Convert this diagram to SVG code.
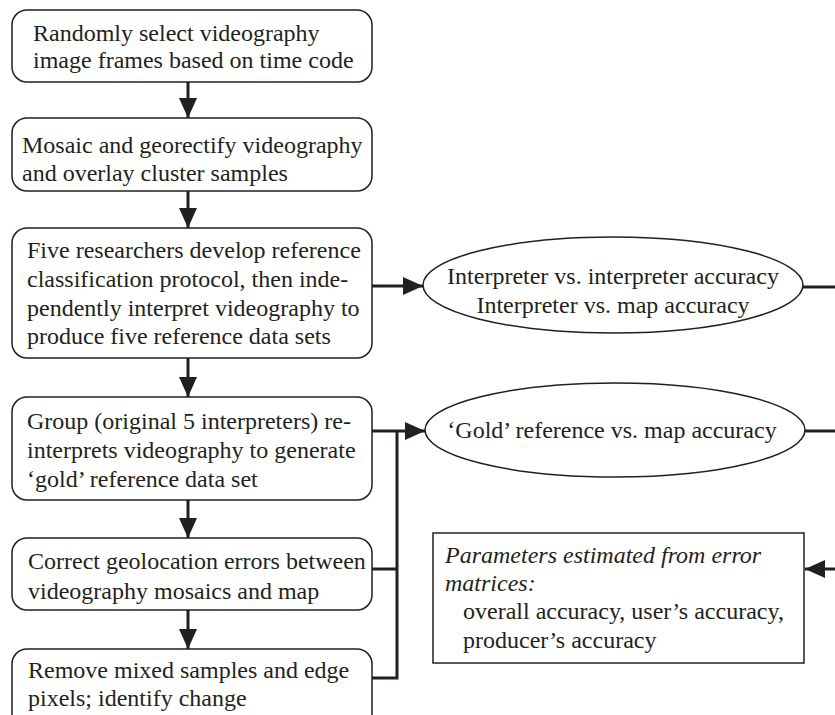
<svg xmlns="http://www.w3.org/2000/svg" width="835" height="715" viewBox="0 0 835 715">
<style>
.box{fill:#fff;stroke:#231f20;stroke-width:1.5}
.t{font-family:"Liberation Serif","Times New Roman",serif;font-size:24px;fill:#231f20}
.i{font-style:italic}
.c{fill:none;stroke:#231f20;stroke-width:3}
.m{text-anchor:middle}
</style>
<defs>
<marker id="ah" markerUnits="userSpaceOnUse" markerWidth="20" markerHeight="20" viewBox="0 0 20 20" refX="20" refY="10" orient="auto">
<path d="M0,1 L20,10 L0,19 Z" fill="#231f20"/>
</marker>
</defs>
<rect width="835" height="715" fill="#fff"/>
<g id="connectors">
<line class="c" x1="188" y1="82" x2="188" y2="118" marker-end="url(#ah)"/>
<line class="c" x1="188" y1="191" x2="188" y2="228" marker-end="url(#ah)"/>
<line class="c" x1="188" y1="358" x2="188" y2="397" marker-end="url(#ah)"/>
<line class="c" x1="188" y1="500" x2="188" y2="538" marker-end="url(#ah)"/>
<line class="c" x1="188" y1="610" x2="188" y2="649" marker-end="url(#ah)"/>
<line class="c" x1="372" y1="286" x2="423" y2="286" marker-end="url(#ah)"/>
<line class="c" x1="372" y1="431" x2="425" y2="431" marker-end="url(#ah)"/>
<polyline class="c" points="397,431 397,678 372,678"/>
<line class="c" x1="372" y1="569" x2="397" y2="569"/>
<line class="c" x1="803" y1="287" x2="835" y2="287"/>
<line class="c" x1="805" y1="431" x2="835" y2="431"/>
<line class="c" x1="835" y1="569" x2="805" y2="569" marker-end="url(#ah)"/>
</g>
<g id="n1">
<rect class="box" x="12" y="10" width="360" height="72" rx="15"/>
<text class="t" x="33" y="41">Randomly select videography</text>
<text class="t" x="33" y="68">image frames based on time code</text>
</g>
<g id="n2">
<rect class="box" x="12" y="118" width="360" height="73" rx="15"/>
<text class="t" x="22" y="153">Mosaic and georectify videography</text>
<text class="t" x="22" y="181">and overlay cluster samples</text>
</g>
<g id="n3">
<rect class="box" x="12" y="228" width="360" height="130" rx="15"/>
<text class="t" x="27" y="258">Five researchers develop reference</text>
<text class="t" x="27" y="287">classification protocol, then inde-</text>
<text class="t" x="27" y="316">pendently interpret videography to</text>
<text class="t" x="27" y="344">produce five reference data sets</text>
</g>
<g id="n4">
<rect class="box" x="12" y="397" width="360" height="103" rx="15"/>
<text class="t" x="27" y="429">Group (original 5 interpreters) re-</text>
<text class="t" x="27" y="458">interprets videography to generate</text>
<text class="t" x="27" y="487">‘gold’ reference data set</text>
</g>
<g id="n5">
<rect class="box" x="12" y="538" width="360" height="72" rx="15"/>
<text class="t" x="28" y="569">Correct geolocation errors between</text>
<text class="t" x="28" y="599">videography mosaics and map</text>
</g>
<g id="n6">
<rect class="box" x="12" y="649" width="360" height="90" rx="15"/>
<text class="t" x="28" y="678">Remove mixed samples and edge</text>
<text class="t" x="28" y="706">pixels; identify change</text>
</g>
<g id="e1">
<ellipse class="box" cx="613" cy="285" rx="190" ry="48"/>
<text class="t m" x="613" y="284">Interpreter vs. interpreter accuracy</text>
<text class="t m" x="613" y="313">Interpreter vs. map accuracy</text>
</g>
<g id="e2">
<ellipse class="box" cx="615" cy="430" rx="190" ry="47"/>
<text class="t m" x="612" y="438">‘Gold’ reference vs. map accuracy</text>
</g>
<g id="p">
<rect class="box" x="433" y="533" width="371" height="130"/>
<text class="t i" x="445" y="563">Parameters estimated from error</text>
<text class="t i" x="445" y="591">matrices:</text>
<text class="t" x="463" y="619">overall accuracy, user’s accuracy,</text>
<text class="t" x="463" y="648">producer’s accuracy</text>
</g>
</svg>
